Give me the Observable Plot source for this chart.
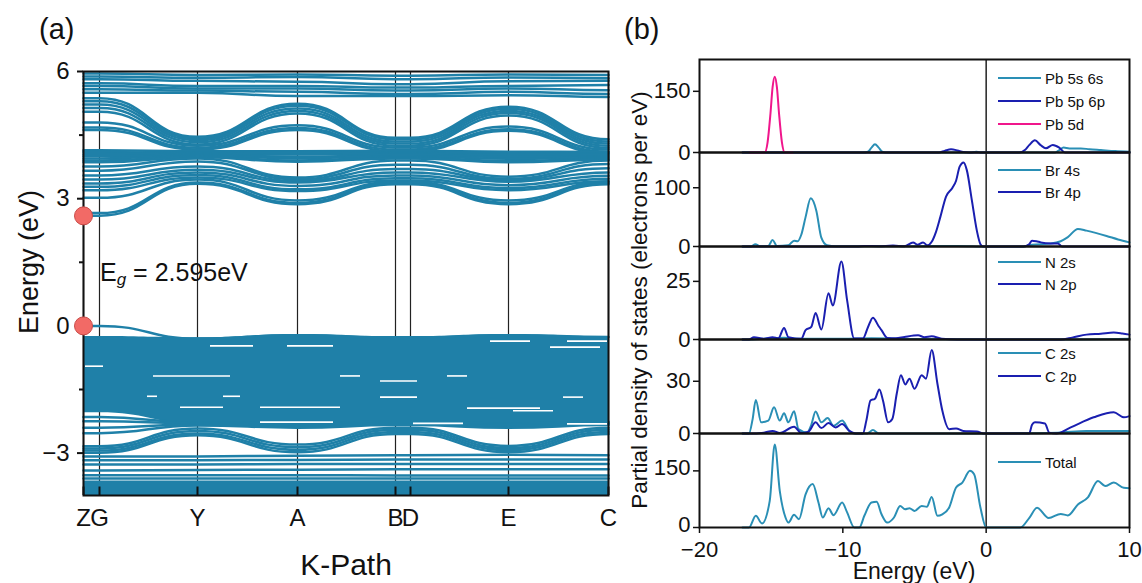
<!DOCTYPE html>
<html><head><meta charset="utf-8">
<script src="https://cdn.jsdelivr.net/npm/d3@7"></script>
<script src="https://cdn.jsdelivr.net/npm/@observablehq/plot@0.6"></script>
<style>
body{margin:0;background:#fff;}
#root{position:relative;width:1142px;height:583px;font-family:"Liberation Sans",Arial,sans-serif;overflow:hidden;color:#111;}
.abs{position:absolute;line-height:1;white-space:nowrap;}
svg{overflow:visible;}
</style></head><body><div id="root"></div>
<script>
// ---------------- Band structure data ----------------
const kLabels = ["Z","G","Y","A","B","D","E","C"];
const kPos = [0, 0.16, 1.14, 2.14, 3.12, 3.27, 4.25, 5.25];
const energyTicks = [-3, 0, 3, 6];
const energyMinorTicks = [-1.5, 1.5, 4.5];
const bandGap = 2.595;
const gapPoints = [{k: 0, E: 2.595}, {k: 0, E: 0}];

// conduction bands, energies at Z,G,Y,A,B,D,E,C
const conductionBands = [
  [5.95,5.95,5.92,5.93,5.90,5.90,5.93,5.92],
  [5.88,5.88,5.85,5.87,5.82,5.82,5.86,5.84],
  [5.82,5.82,5.78,5.76,5.70,5.70,5.77,5.78],
  [5.72,5.72,5.66,5.66,5.62,5.62,5.66,5.68],
  [5.66,5.66,5.60,5.60,5.55,5.55,5.60,5.56],
  [5.58,5.58,5.55,5.52,5.47,5.47,5.52,5.47],
  [5.50,5.50,5.50,5.42,5.42,5.42,5.44,5.40],
  [5.37,5.37,4.46,5.24,4.44,4.44,5.17,4.40],
  [5.30,5.30,4.42,5.19,4.40,4.40,5.12,4.35],
  [5.22,5.22,4.38,5.13,4.35,4.35,5.07,4.30],
  [5.14,5.14,4.33,5.07,4.30,4.30,5.02,4.25],
  [5.05,5.05,4.28,5.01,4.25,4.25,4.96,4.20],
  [4.80,4.80,4.25,4.73,4.21,4.21,4.70,4.16],
  [4.68,4.68,4.20,4.67,4.16,4.16,4.64,4.11],
  [4.62,4.62,4.16,4.62,4.12,4.12,4.60,4.07],
  [4.14,4.14,4.12,4.12,4.13,4.13,4.11,4.10],
  [4.10,4.10,4.08,4.08,4.09,4.09,4.07,4.06],
  [4.05,4.05,4.06,4.04,4.06,4.06,4.03,4.03],
  [4.00,4.00,4.04,3.99,4.03,4.03,3.98,4.00],
  [3.95,3.95,4.02,3.95,4.00,4.00,3.94,3.97],
  [3.90,3.90,4.00,3.90,3.97,3.97,3.89,3.94],
  [3.86,3.86,3.98,3.87,3.95,3.95,3.86,3.92],
  [3.76,3.76,3.95,3.50,3.90,3.90,3.52,3.90],
  [3.66,3.66,3.88,3.46,3.80,3.80,3.47,3.82],
  [3.55,3.55,3.76,3.42,3.70,3.70,3.44,3.72],
  [3.45,3.45,3.68,3.38,3.62,3.62,3.40,3.62],
  [3.36,3.36,3.62,3.30,3.55,3.55,3.32,3.54],
  [3.28,3.28,3.56,3.22,3.48,3.48,3.25,3.47],
  [3.20,3.20,3.50,3.18,3.43,3.43,3.20,3.41],
  [3.02,3.02,3.45,2.96,3.40,3.40,2.96,3.40],
  [2.66,2.66,3.38,2.90,3.37,3.37,2.90,3.37],
  [2.60,2.60,3.35,2.87,3.34,3.34,2.87,3.34]
];
// valence bands (discrete lines)
const valenceBands = [
  [0.00,0.00,-0.30,-0.22,-0.28,-0.28,-0.22,-0.26],
  [-2.15,-2.15,-2.28,-2.30,-2.26,-2.26,-2.30,-2.26],
  [-2.25,-2.25,-2.30,-2.34,-2.29,-2.29,-2.34,-2.29],
  [-2.40,-2.40,-2.32,-2.37,-2.31,-2.31,-2.37,-2.31],
  [-2.53,-2.53,-2.35,-2.40,-2.34,-2.34,-2.40,-2.34],
  [-2.84,-2.84,-2.42,-2.80,-2.40,-2.40,-2.83,-2.40],
  [-2.89,-2.89,-2.48,-2.86,-2.45,-2.45,-2.88,-2.45],
  [-2.94,-2.94,-2.54,-2.92,-2.50,-2.50,-2.93,-2.50],
  [-2.99,-2.99,-2.58,-2.98,-2.55,-2.55,-2.98,-2.55],
  [-3.08,-3.08,-3.08,-3.06,-3.05,-3.05,-3.04,-3.05],
  [-3.17,-3.17,-3.17,-3.16,-3.15,-3.15,-3.15,-3.15],
  [-3.27,-3.27,-3.27,-3.26,-3.26,-3.26,-3.26,-3.26],
  [-3.41,-3.41,-3.40,-3.39,-3.38,-3.38,-3.38,-3.38],
  [-3.52,-3.52,-3.52,-3.52,-3.53,-3.53,-3.53,-3.53],
  [-3.60,-3.60,-3.60,-3.60,-3.60,-3.60,-3.60,-3.60]
];
// densely packed valence manifold (envelope) and deep block
const vbDenseTop    = [-0.25,-0.25,-0.28,-0.20,-0.25,-0.25,-0.20,-0.25];
const vbDenseBottom = [-2.05,-2.05,-2.30,-2.36,-2.30,-2.30,-2.36,-2.30];
const vbDeepTop     = [-3.66,-3.66,-3.66,-3.66,-3.66,-3.66,-3.66,-3.66];
const vbDeepBottom  = [-4,-4,-4,-4,-4,-4,-4,-4];
// small gaps visible inside the dense manifold: [k from, k to, energy]
const vbGaps = [
  [1.27,1.70,-0.47],[2.04,2.50,-0.47],[0.02,0.20,-0.95],[0.70,1.47,-1.18],
  [2.57,2.77,-1.18],[0.64,0.74,-1.66],[1.40,1.57,-1.66],[0.97,1.40,-1.92],
  [1.77,2.57,-1.92],[1.77,2.50,-2.27],[4.07,4.47,-0.36],[4.84,5.24,-0.36],
  [4.67,5.17,-0.50],[3.64,3.84,-1.18],[2.97,3.34,-1.30],[2.97,3.34,-1.68],
  [4.80,5.00,-1.68],[3.84,4.57,-1.94],[4.30,4.70,-2.00],[3.30,3.80,-2.30],
  [4.84,5.24,-2.31]
];

// ---------------- PDOS data: [energy (eV), states/eV] ----------------
const pb5s6s = [[-17,0],[-8.6,0],[-8.25,2],[-8.0,12],[-7.76,20],[-7.5,12],[-7.25,2],[-7.0,0],[-1.0,0],[-0.65,2],[-0.4,0],[4.8,0],[5.1,6],[5.4,12],[5.8,10],[6.6,10],[7.2,8],[8.0,6],[9.0,3.5],[10,2]];
const pb5p6p = [[-17,0],[-3.3,0],[-2.9,4],[-2.45,8],[-2.0,5],[-1.6,1],[-1.2,0],[2.3,0],[2.7,6],[3.0,18],[3.4,30],[3.8,18],[4.17,10.5],[4.65,18.6],[5.1,12],[5.5,0],[10,0]];
const pb5d   = [[-16.5,0],[-15.45,0],[-15.25,25],[-15.05,95],[-14.9,160],[-14.75,186],[-14.6,160],[-14.45,95],[-14.25,25],[-14.05,0],[-13.5,0]];
const br4s = [[-17,0],[-16.4,0],[-16.1,4],[-15.8,0.5],[-15.2,1],[-14.9,11],[-14.6,1],[-13.8,2],[-13.4,10],[-13.15,9],[-12.9,20],[-12.6,50],[-12.24,82],[-11.85,61],[-11.5,15],[-11.1,2],[-10.5,0.5],[-8,0.5],[-5,0.5],[-2,1],[0,0],[2.6,0],[3.2,3],[4.5,5],[5.2,9],[5.7,16],[6.4,30],[7.0,27],[8.4,18],[9.2,12],[10,7]];
const br4p = [[-17,0],[-9,0],[-8.5,1],[-7.5,0.5],[-6.5,1.5],[-5.7,0.5],[-5.1,7],[-4.8,3],[-4.4,7],[-4.1,2],[-3.8,8],[-3.5,25],[-3.2,50],[-2.8,85],[-2.35,100],[-2.1,112],[-1.85,136],[-1.58,143],[-1.35,130],[-1.0,79],[-0.65,27],[-0.4,4],[-0.2,0],[2.6,0],[3.0,4],[3.2,10],[3.5,9],[3.8,7],[4.5,5],[5.0,5],[5.3,0],[10,0]];
const n2s = [[-17,0],[-16.5,0],[-14.1,0.8],[-13,0.3],[-10,0.3],[-8,0.5],[-5,0.2],[0,0],[5,0],[10,0.3]];
const n2p = [[-17,0],[-16.55,0],[-16.2,1],[-15.5,0.3],[-14.9,1],[-14.5,0.5],[-14.1,5],[-13.8,1],[-12.9,0.3],[-12.6,4],[-12.2,5.4],[-11.9,11.4],[-11.5,4.3],[-11.0,19.9],[-10.7,14.6],[-10.1,33.5],[-9.7,16.8],[-9.2,0.4],[-8.6,0.4],[-8.24,5.4],[-7.9,9.4],[-7.5,5.7],[-7.3,4],[-6.9,0.7],[-6.3,0.5],[-5.7,1.1],[-4.75,1.8],[-4.3,1],[-3.8,1.4],[-3.1,0.3],[-2,0],[0,0],[5.2,0],[6,0.8],[7.0,2.1],[8.0,2.5],[8.9,3.0],[9.5,2.6],[10,2.1]];
const c2s = [[-17,0],[-16.55,0],[-16.3,8],[-16.07,19.3],[-15.7,6.4],[-15.2,7.4],[-14.8,15.1],[-14.4,7.4],[-14.1,11.6],[-13.8,6.4],[-13.4,12.8],[-13.1,2.5],[-12.5,0.6],[-12.2,5],[-11.9,12.6],[-11.5,6.4],[-11.06,8.9],[-10.65,4.4],[-10.05,7.4],[-9.55,1.5],[-9.2,0],[-8.3,0],[-7.9,2],[-7.5,0],[0,0],[5,0.5],[7,1.5],[10,1.5]];
const c2p = [[-17,0],[-16.55,0],[-15.5,0.5],[-14.9,1.5],[-14.4,0.3],[-13.4,3.9],[-12.9,0.3],[-12.4,1],[-11.9,6.4],[-11.5,3.1],[-11,6],[-10.5,3.5],[-10.05,5.4],[-9.55,1.5],[-9.1,0],[-8.6,0],[-8.36,7.4],[-8.07,19],[-7.76,20],[-7.45,25.3],[-7.2,19],[-6.84,6.4],[-6.55,8.3],[-6.24,22.8],[-5.95,33.5],[-5.64,28.2],[-5.35,31.5],[-5.0,25.7],[-4.5,33.5],[-4.2,31.5],[-3.8,48],[-3.4,28.6],[-3.06,13.2],[-2.58,2.5],[-2.1,2.9],[-1.6,1.5],[-0.65,1.2],[-0.2,0],[3.0,0],[3.2,5],[3.4,6.4],[4.1,5.8],[4.4,0.5],[4.9,0],[5.9,3.5],[7.5,9.3],[8.9,12.2],[9.6,9.3],[10,10]];
const totalDos = [[-17,0],[-16.55,0],[-16.07,31],[-15.64,10.6],[-15.1,70.6],[-14.75,220],[-14.4,97],[-14.0,26.5],[-13.8,13],[-13.4,33.5],[-13.06,22],[-12.6,88],[-12.1,115],[-11.7,66],[-11.4,26.5],[-11.0,51],[-10.65,32.7],[-10.05,66],[-9.7,40],[-9.2,0],[-8.85,0],[-8.5,31],[-8.0,66],[-7.64,68],[-7.3,35],[-6.9,13],[-6.43,26.5],[-6.0,57],[-5.66,48.5],[-5.35,51],[-5.0,44],[-4.5,57],[-4.14,55],[-3.8,81],[-3.4,31],[-3.06,35],[-2.58,53],[-2.1,106],[-1.66,119],[-1.13,150],[-0.84,141],[-0.4,53],[0,0],[2.38,0],[3.0,25],[3.55,52],[4.36,25],[5.2,36],[5.7,32],[6.4,61],[7.1,80],[7.8,123],[8.3,110],[8.9,119],[9.6,105],[10,104]];

const pdosTicks = [[0,150],[0,100],[0,25],[0,30],[0,150]];
const pdosDomains = [[0,228],[0,160],[0,40],[0,54],[0,249]];
const energyAxisTicks = [-20,-10,0,10];
const legendLabels = [["Pb 5s 6s","Pb 5p 6p","Pb 5d"],["Br 4s","Br 4p"],["N 2s","N 2p"],["C 2s","C 2p"],["Total"]];

// ---------------- styling ----------------
const BAND = "#1f80a8";
const TEAL = "#2a8fb5";
const NAVY = "#1a1fb0";
const PINK = "#f0168c";
const FONT = "Liberation Sans, Arial, sans-serif";
const root = document.getElementById("root");

function place(el, left, top){ const d=document.createElement("div"); d.className="abs"; d.style.left=left+"px"; d.style.top=top+"px"; d.appendChild(el); root.appendChild(d); return d; }
function label(html, left, top, size, extra){ const d=document.createElement("div"); d.className="abs"; d.style.left=left+"px"; d.style.top=top+"px"; d.style.fontSize=size+"px"; d.innerHTML=html; if(extra) Object.assign(d.style, extra); root.appendChild(d); return d; }

// ---------------- panel (a) ----------------
function rows(bands, prefix){ const r=[]; bands.forEach((b,i)=>b.forEach((E,j)=>r.push({id:prefix+i,k:kPos[j],E}))); return r; }
const envRows = kPos.map((k,j)=>({k, top:vbDenseTop[j], bottom:vbDenseBottom[j], dTop:vbDeepTop[j], dBot:vbDeepBottom[j]}));

const bandPlot = Plot.plot({
  width: 620, height: 583,
  marginLeft: 83, marginRight: 12, marginTop: 71, marginBottom: 88,
  x: {domain: [0, 5.25], axis: null},
  y: {domain: [-4, 6], axis: null},
  style: {fontSize: "24px", fontFamily: FONT, overflow: "visible", background: "transparent", color: "#111"},
  marks: [
    Plot.ruleX(kPos, {stroke: "#222", strokeWidth: 1.2}),
    Plot.areaY(envRows, {x: "k", y1: "bottom", y2: "top", curve: "bump-x", fill: BAND}),
    Plot.areaY(envRows, {x: "k", y1: "dBot", y2: "dTop", curve: "bump-x", fill: BAND}),
    Plot.line(rows(valenceBands, "v"), {x: "k", y: "E", z: "id", curve: "bump-x", stroke: BAND, strokeWidth: 2.5}),
    Plot.line(rows(conductionBands, "c"), {x: "k", y: "E", z: "id", curve: "bump-x", stroke: BAND, strokeWidth: 2.5}),
    Plot.ruleY(vbGaps, {x1: d=>d[0], x2: d=>d[1], y: d=>d[2], stroke: "white", strokeWidth: 1.6}),
    Plot.ruleX(kPos, {y1: -4, y2: -3.8, stroke: "#111", strokeWidth: 2}),
    Plot.frame({stroke: "#111", strokeWidth: 2}),
    Plot.axisY({ticks: energyTicks, tickSize: 6, tickPadding: 8, label: null, strokeWidth: 2}),
    Plot.axisY({ticks: energyMinorTicks, tickSize: 4, tickFormat: () => "", label: null, strokeWidth: 2}),
    Plot.text(kPos, {x: d=>d, y: () => -4, text: (d,i)=>kLabels[i], dy: 23, fontSize: 24, fill: "#111"}),
    Plot.dot(gapPoints, {x: "k", y: "E", r: 9, fill: "#f26a66", stroke: "#c94a46", strokeWidth: 1})
  ]
});
place(bandPlot, 0, 0);

label("(a)", 39, 15, 29);
label("(b)", 624, 15, 29);
label("K-Path", 246, 550, 30, {width: "200px", textAlign: "center"});
label("Energy (eV)", 29, 262, 27, {transform: "translate(-50%,-50%) rotate(-90deg)"});
label("E<sub style='font-style:italic;font-size:0.68em;vertical-align:-0.25em'>g</sub> = " + bandGap + "eV", 100, 260, 25);

// ---------------- panel (b) ----------------
const pdosSeries = [
  [{data: pb5s6s, color: TEAL}, {data: pb5p6p, color: NAVY}, {data: pb5d, color: PINK}],
  [{data: br4s, color: TEAL}, {data: br4p, color: NAVY}],
  [{data: n2s, color: TEAL}, {data: n2p, color: NAVY}],
  [{data: c2s, color: TEAL}, {data: c2p, color: NAVY}],
  [{data: totalDos, color: TEAL}]
];
const panelTops = [59, 152, 246, 339, 433, 527];
const legendRowY = [[78,101,124],[170,192],[262,284],[353,376],[462]];

pdosSeries.forEach((series, p) => {
  const isLast = p === pdosSeries.length - 1;
  const h = panelTops[p+1] - panelTops[p];
  const mb = isLast ? 56 : 0;
  const yAxisMarks = isLast
    ? [Plot.axisY({ticks: pdosTicks[p], tickSize: 6, tickFormat: () => "", label: null, strokeWidth: 1.5}),
       Plot.axisY({ticks: pdosTicks[p], tickSize: 0, tickPadding: 9, label: null, dy: -3})]
    : [Plot.axisY({ticks: pdosTicks[p], tickSize: 6, tickPadding: 3, label: null, strokeWidth: 1.5})];
  const plot = Plot.plot({
    width: 542, height: h + mb,
    marginLeft: 99, marginRight: 13, marginTop: 0, marginBottom: mb,
    x: {domain: [-20, 10], axis: null},
    y: {domain: pdosDomains[p], axis: null},
    style: {fontSize: "22px", fontFamily: FONT, overflow: "visible", background: "transparent", color: "#111"},
    marks: [
      Plot.ruleX([0], {stroke: "#222", strokeWidth: 1.5}),
      ...series.map(s => Plot.line(s.data, {x: d=>d[0], y: d=>d[1], curve: "monotone-x", stroke: s.color, strokeWidth: 2})),
      Plot.frame({stroke: "#111", strokeWidth: 2}),
      ...yAxisMarks,
      ...(isLast ? [Plot.axisX({ticks: energyAxisTicks, tickSize: 6, tickPadding: 8, label: null, strokeWidth: 1.5})] : [])
    ]
  });
  place(plot, 600, panelTops[p]);
  legendLabels[p].forEach((name, i) => {
    const y = legendRowY[p][i];
    const ln = document.createElement("div");
    ln.className = "abs";
    Object.assign(ln.style, {left: "998px", top: (y-1)+"px", width: "43px", height: "2px", background: series[i].color});
    root.appendChild(ln);
    label(name, 1045, y - 7.5, 15);
  });
});

label("Partial density of states (electrons per eV)", 640, 300, 22.5, {transform: "translate(-50%,-50%) rotate(-90deg)"});
label("Energy (eV)", 814, 560, 23, {width: "200px", textAlign: "center"});
</script></body></html>
